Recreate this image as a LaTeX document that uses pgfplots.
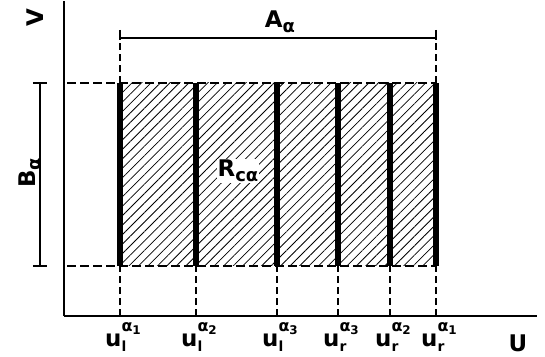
\documentclass[border=0pt]{standalone}
\usepackage{fontspec}
\setmainfont{DejaVu Sans}
\usepackage{pgfplots}
\pgfplotsset{compat=1.18}
\usetikzlibrary{patterns.meta}
\newcommand{\bigf}{\fontsize{23}{25}\bfseries\selectfont}
\newcommand{\sub}[1]{\raisebox{-0.22em}{\fontsize{18}{18}\bfseries\selectfont #1}}
\newcommand{\lab}[3]{u\rlap{\raisebox{-0.26em}{\fontsize{14}{14}\bfseries\selectfont #2}}\raisebox{0.62em}{\fontsize{16}{16}\bfseries\selectfont α\raisebox{-0.15em}{\fontsize{12}{12}\bfseries\selectfont #3}}}
\begin{document}
\begin{tikzpicture}
\begin{axis}[
  scale only axis, width=473bp, height=315bp,
  xmin=0, xmax=473, ymin=0, ymax=315,
  axis lines=left, axis line style={-, line width=2pt},
  clip=false,
  xtick={56,132,213,274,326,372},
  xticklabels={\lab{u}{l}{1},\lab{u}{l}{2},\lab{u}{l}{3},\lab{u}{r}{3},\lab{u}{r}{2},\lab{u}{r}{1}},
  major tick length=0pt,
  ytick=\empty,
  xticklabel style={font=\bigf, anchor=base, yshift=-30bp, xshift=3bp, inner sep=0pt},
]
% page frame (invisible)
\addplot[draw=none, forget plot] coordinates {(-64,-41) (481,316)};
% hatched region
\addplot[draw=none, pattern={Lines[angle=45, distance=6.7bp, line width=0.8pt]}] coordinates {(56,50) (372,50) (372,233) (56,233) (56,50)};
% dashed horizontals
\addplot[dash pattern=on 9bp off 4bp, line width=1.7pt] coordinates {(3,233) (372,233)};
\addplot[dash pattern=on 9bp off 4bp, line width=1.7pt] coordinates {(3,50) (372,50)};
% dashed verticals to axis
\addplot[ycomb, dash pattern=on 7bp off 4bp, line width=1.1pt] coordinates {(56,50) (132,50) (213,50) (274,50) (326,50) (372,50)};
% dashed up to A bracket
\addplot[dash pattern=on 7bp off 4bp, line width=1.1pt] coordinates {(56,233) (56,280)};
\addplot[dash pattern=on 7bp off 4bp, line width=1.1pt] coordinates {(372,233) (372,280)};
% A bracket
\addplot[line width=1.5pt] coordinates {(56,278) (372,278)};
\addplot[line width=1.5pt] coordinates {(56,286) (56,276)};
\addplot[line width=1.5pt] coordinates {(372,286) (372,276)};
% B bracket
\addplot[line width=1.3pt] coordinates {(-24,50) (-24,233)};
\addplot[line width=1.8pt] coordinates {(-31,233) (-17,233)};
\addplot[line width=1.8pt] coordinates {(-31,50) (-17,50)};
% thick bars
\pgfplotsinvokeforeach{56,132,213,274,326,372}{
  \addplot[line width=5.5bp] coordinates {(#1,50) (#1,233)};
}
% labels
\node[font=\bigf] at (axis cs:216,294) {A\sub{α}};
\node[font=\bigf, rotate=90] at (axis cs:-34,143) {B\sub{α}};
\node[font=\bigf, fill=white, inner sep=1pt] at (axis cs:174,145) {R\sub{cα}};
\node[font=\bigf, rotate=90] at (axis cs:-29,298) {V};
\node[font=\bigf, inner sep=0pt] at (axis cs:454,-27) {U};
\end{axis}
\end{tikzpicture}
\end{document}
